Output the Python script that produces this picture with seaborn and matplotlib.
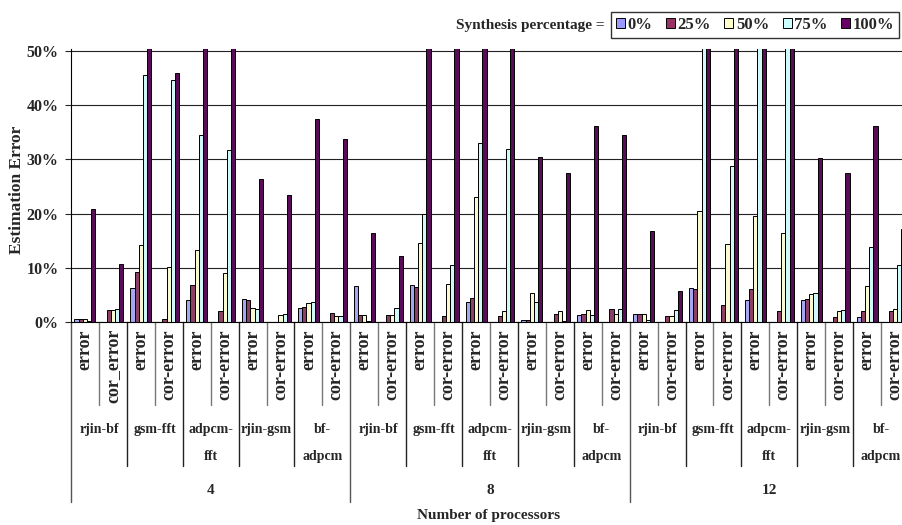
import pandas as pd
import matplotlib.pyplot as plt
import matplotlib.transforms as mtransforms
from matplotlib.patches import Patch
import seaborn as sns

# x-axis hierarchy: processors > benchmark pair > error type
procs = ['4', '8', '12']
benchmarks = ['rjin-bf', 'gsm-fft', 'adpcm-\nfft', 'rjin-gsm', 'bf-\nadpcm']
err_types = ['error', 'cor-error']
synth = ['0%', '25%', '50%', '75%', '100%']
colors = ['#9999FF', '#993366', '#FFFFCC', '#CCFFFF', '#660066']

# estimation error (%) per bar group, in x order; 55 = off the top of the chart
v0 = [0.6, 0, 6.3, 0, 4.1, 0, 4.3, 0, 2.7, 0,
      6.6, 0, 6.8, 0, 3.8, 0, 0.4, 0, 1.35, 0,
      1.6, 0, 6.3, 0, 4.1, 0, 4.1, 0, 0.9, 0]
v25 = [0.6, 2.2, 9.2, 0.6, 6.8, 2.0, 4.1, 0, 2.9, 1.8,
       1.35, 1.35, 6.5, 1.1, 4.4, 1.1, 0.4, 1.6, 1.6, 2.5,
       1.6, 1.1, 6.1, 3.2, 6.1, 2.0, 4.3, 0.9, 2.0, 2.0]
v50 = [0.6, 2.2, 14.2, 10.1, 13.3, 9.0, 2.7, 1.35, 3.6, 1.1,
       1.35, 1.35, 14.6, 7.0, 23.0, 2.0, 5.4, 2.0, 2.3, 1.6,
       1.6, 1.1, 20.5, 14.4, 19.6, 16.5, 5.2, 2.0, 6.6, 2.5]
v75 = [0.25, 2.4, 45.5, 44.6, 34.4, 31.7, 2.5, 1.6, 3.8, 1.1,
       0.3, 2.7, 19.9, 10.6, 33.0, 31.9, 3.8, 0.2, 1.35, 2.5,
       0.4, 2.3, 55, 28.8, 55, 55, 5.4, 2.3, 13.8, 10.6]
v100 = [20.9, 10.7, 55, 45.9, 55, 55, 26.4, 23.5, 37.4, 33.8,
        16.5, 12.2, 55, 55, 55, 55, 30.4, 27.5, 36.2, 34.4,
        16.9, 5.7, 55, 55, 55, 55, 30.2, 27.5, 36.2, 17.1]

# table long format pour seaborn
rows = []
for s, vals in zip(synth, [v0, v25, v50, v75, v100]):
    for i, v in enumerate(vals):
        rows.append({'pos': i, 'synth': s, 'value': v})
df = pd.DataFrame(rows)

sns.set_style('white')
plt.rcParams['font.family'] = ['Liberation Serif', 'DejaVu Serif']
plt.rcParams['font.weight'] = 'bold'

W, H = 902, 525
fig = plt.figure(figsize=(W / 100, H / 100), dpi=100)
ax = fig.add_axes([71 / W, 1 - 322.3 / H, (902 - 71) / W, (322.3 - 48.6) / H])

sns.barplot(data=df, x='pos', y='value', hue='synth', hue_order=synth,
            palette=colors, width=0.75, edgecolor='black', linewidth=0.7,
            errorbar=None, legend=False, ax=ax)

ax.set_ylim(0, 50.4)
ax.set_xlim(-0.5, 29.25)
ax.set_yticks([0, 10, 20, 30, 40, 50])
ax.set_yticklabels([f'{t}%' for t in range(0, 60, 10)], fontsize=11.5, fontweight='bold')
ax.tick_params(axis='y', direction='out', length=4, width=0.8, pad=5, left=True)
ax.tick_params(axis='x', bottom=False, labelbottom=False)
ax.set_xlabel('')
ax.set_ylabel('')
ax.yaxis.grid(True, color='#222222', linewidth=0.8)
ax.set_axisbelow(True)
for sp in ['top', 'right']:
    ax.spines[sp].set_visible(False)
ax.spines['left'].set_color('black')
ax.spines['bottom'].set_color('black')

# etiquettes multi-niveaux sous l'axe
tr = mtransforms.blended_transform_factory(ax.transData, fig.transFigure)
def fy(py):
    return 1 - py / H

for i in range(31):
    x = i - 0.5
    if i % 10 == 0:
        ax.plot([x, x], [fy(322.3), fy(502)], transform=tr, color='#555555', lw=1, clip_on=False)
    elif i % 2 == 0:
        ax.plot([x, x], [fy(322.3), fy(466)], transform=tr, color='#222222', lw=1, clip_on=False)
    else:
        ax.plot([x, x], [fy(322.3), fy(405)], transform=tr, color='#777777', lw=1, clip_on=False)

for i in range(30):
    lab = err_types[i % 2]
    if i == 1:
        lab = 'cor_error'
    ax.text(i, fy(329), lab, transform=tr, rotation=90, ha='center', va='top',
            fontsize=13, fontweight='bold')

for k in range(15):
    ax.text(2 * k + 0.5, fy(423), benchmarks[k % 5], transform=tr, ha='center', va='top',
            fontsize=10, fontweight='bold', linespacing=2.4)

for p, lab in enumerate(procs):
    ax.text(10 * p + 4.5, fy(490), lab, transform=tr, ha='center', va='center',
            fontsize=11, fontweight='bold')

fig.text(489 / W, fy(515), 'Number of processors', ha='center', va='center',
         fontsize=11, fontweight='bold')
fig.text(17 / W, fy(190), 'Estimation Error', rotation=90, ha='center', va='center',
         fontsize=12.5, fontweight='bold')

# legende
handles = [Patch(facecolor=c, edgecolor='black', linewidth=0.7) for c in colors]
leg = fig.legend(handles, synth, ncol=5, loc='upper left',
                 bbox_to_anchor=(611 / W, fy(12)), borderaxespad=0,
                 frameon=True, fancybox=False,
                 handlelength=0.55, handleheight=0.55, handletextpad=0.15,
                 columnspacing=0.8, borderpad=0.3,
                 prop={'weight': 'bold', 'size': 12})
leg.get_frame().set_edgecolor('black')
leg.get_frame().set_linewidth(1)
fig.text(605 / W, fy(26), 'Synthesis percentage =', ha='right', va='center',
         fontsize=11, fontweight='bold')

plt.savefig('out.png', dpi=100)
